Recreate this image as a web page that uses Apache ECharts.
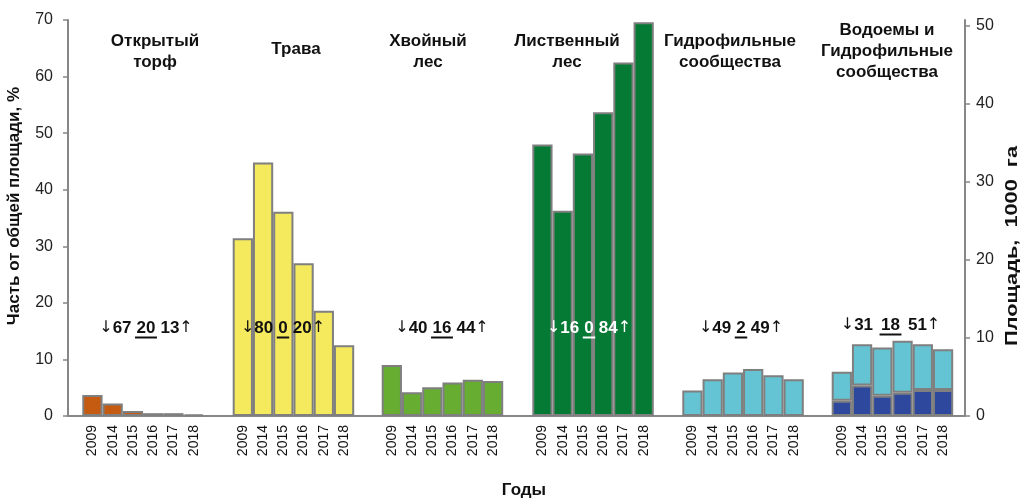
<!DOCTYPE html>
<html>
<head>
<meta charset="utf-8">
<script src="https://cdn.jsdelivr.net/npm/echarts@6/dist/echarts.min.js"></script>
<style>html,body{margin:0;padding:0;background:#fff;}#c{width:1026px;height:500px;}</style>
</head>
<body>
<div id="c"></div>
<script>
// ---------- data ----------
const years = ['2009', '2014', '2015', '2016', '2017', '2018'];
const groupTitles = ['Открытый\nторф', 'Трава', 'Хвойный\nлес', 'Лиственный\nлес', 'Гидрофильные\nсообщества', 'Водоемы и\nГидрофильные\nсообщества'];
const peat = [3.7, 2.2, 0.9, 0.5, 0.5, 0.3];
const grass = [31.4, 44.8, 36.1, 27.0, 18.6, 12.5];
const conifer = [9.0, 4.2, 5.1, 5.9, 6.4, 6.2];
const deciduous = [48.0, 36.3, 46.4, 53.7, 62.5, 69.6];
const hydro = [4.5, 6.5, 7.7, 8.3, 7.2, 6.5];
const water = [2.7, 5.4, 3.6, 4.1, 4.6, 4.6];
const waterHydro = [5.1, 7.3, 8.5, 9.2, 8.1, 7.2];
const decrease = ['67', '80', '40', '16', '49', '31'];
const stable = ['20', '0', '16', '0', '2', '18'];
const increase = ['13', '20', '44', '84', '49', '51'];
const leftAxisName = 'Часть от общей площади, %';
const rightAxisName = 'Площадь,  1000  га';
const xAxisName = 'Годы';

// ---------- layout / style ----------
const FONT = "'Liberation Sans', Arial, sans-serif";
const PLOT = {left: 68, right: 61, top: 20, bottom: 84};
const groupLeft = [82.3, 232.7, 381.7, 532.3, 682.3, 831.7];
const groupWidth = 121.5;
const colors = ['#C55A11', '#F5E95E', '#66AD32', '#057A35', '#65C4D3'];
const darkBlue = '#2D489C';
const border = '#7F7F7F';
const axisGray = '#878787';
const titlePos = [[155, 52], [296, 49], [428, 52], [567, 52], [730, 52], [887, 51]];
const annPos = [[146, 328], [283, 328], [442, 328], [589, 328], [741, 328], [890.5, 325]];
const annGap = [5, 5, 5, 5, 5, 8];
const annColor = ['#111', '#111', '#111', '#fff', '#111', '#111'];
const rightNameLen = 200;

const seriesData = [peat, grass, conifer, deciduous, hydro];

const grids = [
  {left: PLOT.left, right: PLOT.right, top: PLOT.top, bottom: PLOT.bottom},
  {left: PLOT.left, right: PLOT.right, top: 26, bottom: PLOT.bottom}
];
const xAxes = [
  {gridIndex: 0, type: 'category', data: [''], axisLine: {lineStyle: {color: axisGray, width: 2}}, axisTick: {show: false}, axisLabel: {show: false}},
  {gridIndex: 1, type: 'category', data: [''], show: false}
];
const yAxes = [
  {gridIndex: 0, type: 'value', position: 'left', min: 0, max: 70, interval: 10,
   axisLine: {show: true, lineStyle: {color: axisGray, width: 2}},
   axisTick: {show: true, length: 5, lineStyle: {color: axisGray, width: 1.5}},
   axisLabel: {fontSize: 16, color: '#222', fontFamily: FONT, margin: 15}, splitLine: {show: false}},
  {gridIndex: 0, type: 'value', position: 'right', min: 0, max: 70,
   axisLine: {show: true, lineStyle: {color: axisGray, width: 2}},
   axisTick: {show: false}, axisLabel: {show: false}, splitLine: {show: false}},
  {gridIndex: 1, type: 'value', position: 'right', min: 0, max: 50, interval: 10,
   axisLine: {show: false},
   axisTick: {show: true, length: 5, lineStyle: {color: axisGray, width: 1.5}},
   axisLabel: {fontSize: 16, color: '#222', fontFamily: FONT, margin: 11}, splitLine: {show: false}}
];
const series = [];
for (let g = 0; g < 6; g++) {
  grids.push({left: groupLeft[g], width: groupWidth, top: PLOT.top, bottom: PLOT.bottom});
  xAxes.push({gridIndex: g + 2, type: 'category', data: years,
    axisLine: {show: false}, axisTick: {show: false},
    axisLabel: {rotate: 90, interval: 0, fontSize: 14, color: '#111', fontFamily: FONT, margin: 9}});
  yAxes.push({gridIndex: g + 2, type: 'value', min: 0, max: 70, show: false});
  const base = {type: 'bar', xAxisIndex: g + 2, yAxisIndex: g + 3, barCategoryGap: '0%', barGap: '0%',
    silent: true, animation: false};
  if (g < 5) {
    series.push(Object.assign({}, base, {data: seriesData[g],
      itemStyle: {color: colors[g], borderColor: border, borderWidth: 2}}));
  } else {
    series.push(Object.assign({}, base, {data: water, stack: 'w',
      itemStyle: {color: darkBlue, borderColor: border, borderWidth: 2}}));
    series.push(Object.assign({}, base, {data: waterHydro, stack: 'w',
      itemStyle: {color: colors[4], borderColor: border, borderWidth: 2}}));
  }
}

// text measuring
const mctx = document.createElement('canvas').getContext('2d');
function textW(font, s) { mctx.font = font; return mctx.measureText(s).width; }

const numFont = 'bold 17px ' + FONT;
const arrFont = "16px 'DejaVu Sans', sans-serif";
const graphics = [];
for (let g = 0; g < 6; g++) {
  graphics.push({type: 'text', z: 100, x: titlePos[g][0], y: titlePos[g][1], silent: true,
    style: {text: groupTitles[g], align: 'center', verticalAlign: 'middle', font: 'bold 17px ' + FONT, fill: '#111', lineHeight: 21}});
  const [cx, cy] = annPos[g];
  const w = textW(numFont, stable[g]);
  const col = annColor[g];
  const rich = {a: {font: arrFont, fill: col}, n: {font: numFont, fill: col}};
  graphics.push({type: 'text', z: 100, x: cx, y: cy, silent: true,
    style: {text: stable[g], align: 'center', verticalAlign: 'middle', font: numFont, fill: col}});
  graphics.push({type: 'text', z: 100, x: cx - w / 2 - annGap[g], y: cy, silent: true,
    style: {text: '{a|↓}{n|' + decrease[g] + '}', align: 'right', verticalAlign: 'middle', rich: rich, font: numFont, fill: col}});
  graphics.push({type: 'text', z: 100, x: cx + w / 2 + annGap[g], y: cy, silent: true,
    style: {text: '{n|' + increase[g] + '}{a|↑}', align: 'left', verticalAlign: 'middle', rich: rich, font: numFont, fill: col}});
  graphics.push({type: 'line', z: 100, silent: true,
    shape: {x1: cx - w / 2 - 1.5, y1: cy + 9.5, x2: cx + w / 2 + 1.5, y2: cy + 9.5},
    style: {stroke: col, lineWidth: 2}});
}
const nameFont = 'bold 17px ' + FONT;
graphics.push({type: 'text', z: 100, x: 14, y: 206, rotation: Math.PI / 2, silent: true,
  style: {text: leftAxisName, align: 'center', verticalAlign: 'middle', font: nameFont, fill: '#111'}});
graphics.push({type: 'text', z: 100, x: 1012, y: 246, rotation: Math.PI / 2, silent: true,
  scaleX: rightNameLen / textW(nameFont, rightAxisName),
  style: {text: rightAxisName, align: 'center', verticalAlign: 'middle', font: nameFont, fill: '#111'}});
graphics.push({type: 'text', z: 100, x: 524, y: 490, silent: true,
  style: {text: xAxisName, align: 'center', verticalAlign: 'middle', font: 'bold 17px ' + FONT, fill: '#111'}});

const chart = echarts.init(document.getElementById('c'), null, {renderer: 'canvas'});
chart.setOption({
  animation: false,
  grid: grids,
  xAxis: xAxes,
  yAxis: yAxes,
  series: series,
  graphic: {elements: graphics}
});
</script>
</body>
</html>
